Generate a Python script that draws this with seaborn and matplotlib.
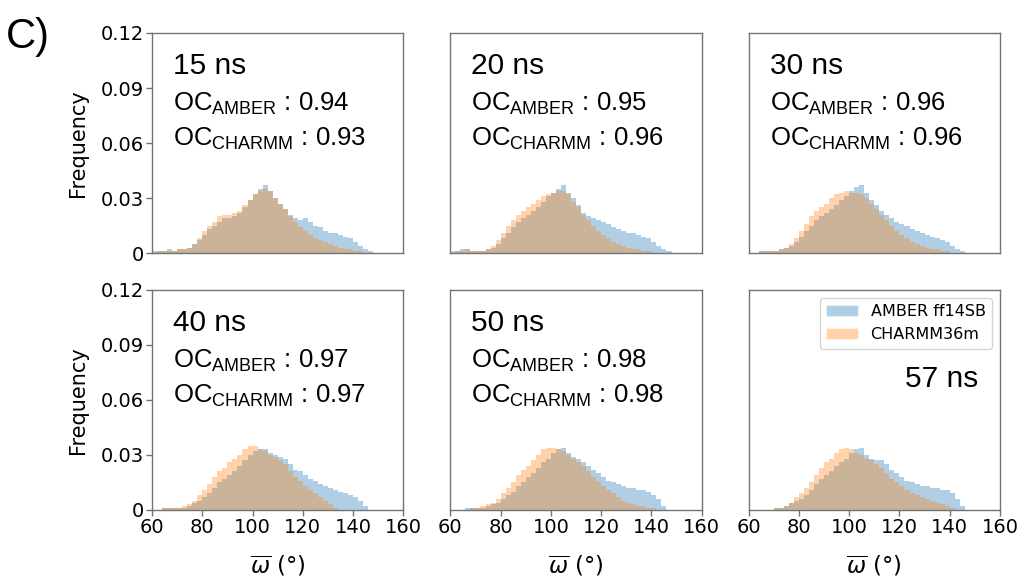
import numpy as np
import pandas as pd
import seaborn as sns
import matplotlib.pyplot as plt
from matplotlib.patches import Patch

# 2-degree bins from 60 to 150 deg, heights (x 1e-3)
edges = list(range(60, 152, 2))
centers = [e + 1 for e in edges[:-1]]

panel_titles = ["15 ns", "20 ns", "30 ns", "40 ns", "50 ns", "57 ns"]
oc_amber = ["0.94", "0.95", "0.96", "0.97", "0.98", None]
oc_charmm = ["0.93", "0.96", "0.96", "0.97", "0.98", None]

amber_15 = [1, 1, 1, 2, 1, 2, 2, 3, 5, 7, 10, 13, 15, 17, 19,
            19, 20, 22, 25, 29, 32, 35, 37, 34, 30, 27, 24, 21, 19, 18,
            19, 17, 15, 14, 12, 11, 11, 10, 9, 8, 6, 4, 2, 1, 0]
charmm_15 = [0, 1, 1, 1, 1, 2, 2, 3, 5, 8, 12, 15, 17, 20, 21,
             21, 22, 23, 26, 29, 32, 34, 35, 34, 30, 27, 24, 20, 17, 14,
             12, 10, 8, 7, 6, 5, 4, 3, 2, 2, 1, 1, 0, 0, 0]
amber_20 = [1, 1, 2, 2, 1, 1, 1, 2, 3, 5, 8, 11, 14, 17, 19,
            21, 23, 25, 28, 31, 33, 35, 37, 33, 30, 26, 22, 20, 19, 18,
            17, 16, 14, 13, 12, 11, 11, 10, 9, 8, 6, 4, 2, 1, 0]
charmm_20 = [0, 1, 1, 2, 1, 1, 1, 2, 4, 7, 11, 15, 18, 21, 23,
             25, 27, 29, 31, 32, 33, 34, 34, 32, 28, 25, 21, 18, 15, 12,
             10, 8, 6, 5, 4, 3, 2, 2, 1, 1, 0, 0, 0, 0, 0]
amber_30 = [0, 0, 1, 1, 1, 1, 2, 3, 4, 6, 9, 12, 15, 18, 20,
            22, 24, 26, 29, 31, 34, 36, 37, 33, 29, 26, 23, 21, 19, 17,
            16, 15, 13, 12, 11, 10, 9, 8, 7, 6, 4, 2, 1, 0, 0]
charmm_30 = [0, 0, 1, 1, 1, 1, 2, 3, 5, 8, 12, 16, 20, 23, 25,
             27, 30, 32, 33, 34, 33, 33, 32, 30, 27, 24, 21, 18, 15, 12,
             10, 8, 6, 5, 4, 3, 2, 2, 1, 1, 0, 0, 0, 0, 0]
amber_40 = [0, 0, 1, 1, 1, 1, 1, 2, 4, 5, 7, 9, 12, 15, 17,
            19, 21, 24, 27, 30, 32, 33, 33, 31, 30, 29, 28, 25, 22, 21,
            19, 17, 16, 14, 13, 12, 11, 10, 9, 8, 7, 5, 2, 0, 0]
charmm_40 = [0, 0, 1, 1, 1, 1, 2, 3, 5, 8, 11, 14, 18, 21, 23,
             26, 28, 30, 33, 35, 35, 33, 32, 30, 29, 27, 25, 21, 18, 16,
             13, 11, 9, 7, 5, 3, 1, 0, 0, 0, 0, 0, 0, 0, 0]
amber_50 = [0, 0, 0, 1, 1, 1, 1, 2, 3, 4, 6, 8, 10, 13, 15,
            18, 20, 23, 26, 28, 31, 33, 34, 31, 29, 28, 26, 24, 22, 20,
            18, 16, 15, 14, 13, 12, 12, 11, 11, 10, 8, 6, 2, 0, 0]
charmm_50 = [0, 0, 0, 0, 1, 1, 2, 3, 4, 6, 9, 12, 15, 19, 22,
             24, 27, 30, 33, 34, 34, 33, 32, 30, 28, 26, 24, 21, 18, 16,
             13, 11, 9, 7, 5, 4, 3, 2, 2, 1, 1, 0, 0, 0, 0]
amber_57 = [0, 0, 0, 0, 0, 1, 1, 2, 4, 5, 6, 8, 11, 14, 17,
            19, 21, 24, 26, 28, 31, 33, 34, 30, 28, 27, 27, 25, 22, 20,
            18, 16, 15, 14, 13, 13, 12, 12, 11, 11, 9, 6, 2, 0, 0]
charmm_57 = [0, 0, 0, 0, 0, 1, 1, 2, 4, 7, 9, 12, 15, 19, 23,
             26, 28, 31, 33, 34, 33, 31, 30, 28, 27, 25, 23, 20, 17, 15,
             13, 11, 9, 8, 7, 6, 5, 4, 3, 2, 1, 0, 0, 0, 0]

amber = [amber_15, amber_20, amber_30, amber_40, amber_50, amber_57]
charmm = [charmm_15, charmm_20, charmm_30, charmm_40, charmm_50, charmm_57]

blue = "#1f77b4"
orange = "#ff7f0e"
alpha = 0.35
ann_font = "Liberation Sans"

sns.set_style("ticks")
plt.rcParams["font.family"] = ["DejaVu Sans"]
plt.rcParams["text.color"] = "black"
plt.rcParams["axes.labelcolor"] = "black"
plt.rcParams["xtick.labelcolor"] = "black"
plt.rcParams["ytick.labelcolor"] = "black"

fig, axes = plt.subplots(2, 3, figsize=(10.25, 5.81), dpi=100)
fig.subplots_adjust(left=152 / 1025, right=1000 / 1025, top=1 - 33 / 581,
                    bottom=1 - 510 / 581, wspace=0.187, hspace=0.168)

for i, ax in enumerate(axes.flat):
    df = pd.DataFrame({"omega": centers,
                       "amber": np.array(amber[i]) / 1000,
                       "charmm": np.array(charmm[i]) / 1000})
    sns.histplot(data=df, x="omega", weights="amber", bins=edges,
                 stat="count", color=blue, alpha=alpha, linewidth=0, ax=ax)
    sns.histplot(data=df, x="omega", weights="charmm", bins=edges,
                 stat="count", color=orange, alpha=alpha, linewidth=0, ax=ax)
    ax.set_xlim(60, 160)
    ax.set_ylim(0, 0.12)
    ax.set_xticks(range(60, 161, 20))
    ax.set_yticks([0, 0.03, 0.06, 0.09, 0.12])
    ax.set_yticklabels(["0", "0.03", "0.06", "0.09", "0.12"])
    ax.set_xlabel("")
    ax.set_ylabel("")
    for sp in ax.spines.values():
        sp.set_color("0.45")
        sp.set_linewidth(1)
    ax.tick_params(labelsize=14, color="0.45", labelcolor="black",
                   length=4, width=1, pad=2)
    row, col = divmod(i, 3)
    if col > 0:
        ax.tick_params(left=False, labelleft=False)
    else:
        ax.set_ylabel("Frequency", fontsize=15)
        ax.yaxis.set_label_coords(-0.255, 0.5)
    if row == 0:
        ax.tick_params(bottom=False, labelbottom=False)
    else:
        ax.set_xlabel(r"$\overline{\omega}$ (°)", fontsize=16.5)
        ax.xaxis.set_label_coords(0.5, -0.2)

    if oc_amber[i] is not None:
        ax.text(0.083, 0.815, panel_titles[i], transform=ax.transAxes,
                fontsize=21.5, family=ann_font, va="baseline")
        ax.text(0.083, 0.647, r"OC$_\mathregular{AMBER}$ : " + oc_amber[i],
                transform=ax.transAxes, fontsize=18.5, family=ann_font,
                va="baseline")
        ax.text(0.083, 0.49, r"OC$_\mathregular{CHARMM}$ : " + oc_charmm[i],
                transform=ax.transAxes, fontsize=18.5, family=ann_font,
                va="baseline")
    else:
        ax.text(0.913, 0.56, panel_titles[i], transform=ax.transAxes,
                fontsize=21.5, family=ann_font, va="baseline", ha="right")
        handles = [Patch(facecolor=blue, alpha=alpha, label="AMBER ff14SB"),
                   Patch(facecolor=orange, alpha=alpha, label="CHARMM36m")]
        ax.legend(handles=handles, loc="upper right", fontsize=11.5,
                  frameon=True, handlelength=2.0)

fig.text(0.006, 0.936, "C)", fontsize=30, family=ann_font, va="center")

fig.savefig("out.png", dpi=100)
